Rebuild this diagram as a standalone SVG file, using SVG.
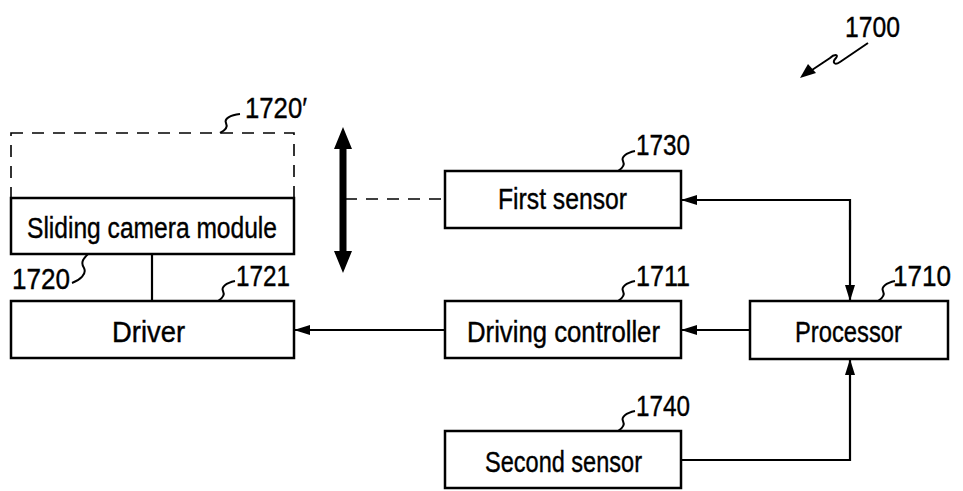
<svg xmlns="http://www.w3.org/2000/svg" width="963" height="491" viewBox="0 0 963 491">
<defs>
<style>
.box{fill:#fff;stroke:#000;stroke-width:2.5}
.ln{fill:none;stroke:#000;stroke-width:2.2}
.dash{fill:none;stroke:#000;stroke-width:1.6;stroke-dasharray:12,9}
.sq{fill:none;stroke:#000;stroke-width:2}
.t{font-family:"Liberation Sans",Arial,sans-serif;font-size:30px;fill:#000;stroke:#000;stroke-width:0.4}
</style>
<marker id="ah" viewBox="0 0 16 10" refX="16" refY="5" markerWidth="16" markerHeight="10" markerUnits="userSpaceOnUse" orient="auto">
<path d="M0,0 L16,5 L0,10 Z" fill="#000"/>
</marker>
</defs>

<g id="node-1720prime">
<rect x="11" y="133" width="283" height="65" class="dash"/>
<path class="sq" d="M220,133 c6,-3 8,-6 6,-10 c-2,-4 4,-8 14,-9"/>
<text class="t" x="245" y="118" textLength="62" lengthAdjust="spacingAndGlyphs">1720′</text>
</g>

<g id="node-1720">
<rect x="11" y="198" width="283" height="56" class="box"/>
<text class="t" x="27" y="238" textLength="250" lengthAdjust="spacingAndGlyphs">Sliding camera module</text>
<path class="sq" d="M88,254 c-4,4 -8,8 -4,14 c3,6 -4,12 -12,15"/>
<text class="t" x="12" y="289" textLength="58" lengthAdjust="spacingAndGlyphs">1720</text>
</g>

<g id="node-1721">
<rect x="11" y="301" width="283" height="57" class="box"/>
<text class="t" x="112" y="342" textLength="73" lengthAdjust="spacingAndGlyphs">Driver</text>
<path class="sq" d="M218,301 c5,-3 7,-6 5,-10 c-2,-4 3,-8 12,-10"/>
<text class="t" x="236" y="286" textLength="54" lengthAdjust="spacingAndGlyphs">1721</text>
</g>

<g id="node-1730">
<rect x="445" y="171" width="236" height="57" class="box"/>
<text class="t" x="498" y="209" textLength="129" lengthAdjust="spacingAndGlyphs">First sensor</text>
<path class="sq" d="M618,171 c5,-3 7,-6 5,-10 c-2,-4 3,-8 12,-10"/>
<text class="t" x="636" y="155" textLength="54" lengthAdjust="spacingAndGlyphs">1730</text>
</g>

<g id="node-1711">
<rect x="445" y="301" width="236" height="57" class="box"/>
<text class="t" x="467" y="342" textLength="193" lengthAdjust="spacingAndGlyphs">Driving controller</text>
<path class="sq" d="M618,301 c5,-3 7,-6 5,-10 c-2,-4 3,-8 12,-10"/>
<text class="t" x="636" y="286" textLength="54" lengthAdjust="spacingAndGlyphs">1711</text>
</g>

<g id="node-1710">
<rect x="750" y="301" width="198" height="58" class="box"/>
<text class="t" x="795" y="342" textLength="107" lengthAdjust="spacingAndGlyphs">Processor</text>
<path class="sq" d="M878,301 c5,-3 7,-6 5,-10 c-2,-4 3,-8 12,-10"/>
<text class="t" x="893" y="286" textLength="58" lengthAdjust="spacingAndGlyphs">1710</text>
</g>

<g id="node-1740">
<rect x="445" y="431" width="236" height="57" class="box"/>
<text class="t" x="485" y="472" textLength="157" lengthAdjust="spacingAndGlyphs">Second sensor</text>
<path class="sq" d="M618,431 c5,-3 7,-6 5,-10 c-2,-4 3,-8 12,-10"/>
<text class="t" x="636" y="416" textLength="54" lengthAdjust="spacingAndGlyphs">1740</text>
</g>

<g id="label-1700">
<text class="t" x="845" y="37" textLength="55" lengthAdjust="spacingAndGlyphs">1700</text>
<path class="sq" d="M868,43 L840,62 c-6,4 -8,0 -4,-4 c3,-4 -2,-4 -6,0 L812,70"/>
<path d="M800,78 L808,64 L816,73 Z" fill="#000"/>
</g>

<g id="connectors">
<line x1="152" y1="254" x2="152" y2="301" class="ln"/>
<line x1="345" y1="199" x2="445" y2="199" class="dash"/>
<path d="M343,127 L352,149 L346.5,149 L346.5,251 L352,251 L343,273 L334,251 L339.5,251 L339.5,149 L334,149 Z" fill="#000"/>
<line x1="750" y1="330" x2="681" y2="330" class="ln" marker-end="url(#ah)"/>
<line x1="445" y1="330" x2="294" y2="330" class="ln" marker-end="url(#ah)"/>
<path d="M850,230 L850,200 L681,200" class="ln" marker-end="url(#ah)"/>
<path d="M850,220 L850,301" class="ln" marker-end="url(#ah)"/>
<path d="M681,460 L850,460 L850,359" class="ln" marker-end="url(#ah)"/>
</g>
</svg>
